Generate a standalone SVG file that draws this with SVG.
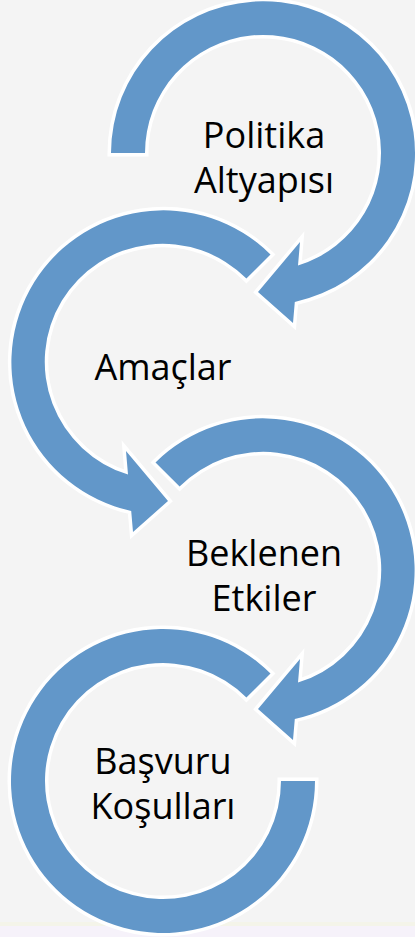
<svg xmlns="http://www.w3.org/2000/svg" width="415" height="937" viewBox="0 0 415 937">
<style>
.ring{fill:#6297c9;stroke:#ffffff;stroke-width:7;paint-order:stroke fill;stroke-linejoin:miter;stroke-miterlimit:6}
.lbl{font-family:"Open Sans","Noto Sans",sans-serif;font-size:36px;fill:#000000;text-anchor:middle}
</style>
<rect x="0" y="0" width="415" height="937" fill="#f4f4f4"/>
<rect x="0" y="922" width="415" height="4" fill="#f4f4e9"/>
<rect x="0" y="926" width="415" height="11" fill="#f6f2fa"/>
<g id="connectors"></g>
<g id="node4">
<path class="ring" d="M 270.5 673.5 A 152 152 0 1 0 315 781 L 281 781 A 118 118 0 1 1 246.4 697.6 Z"/>
<text class="lbl" x="163" y="774">Başvuru</text>
<text class="lbl" x="163" y="819">Koşulları</text>
</g>
<g id="node3">
<path class="ring" d="M 155.5 462.5 A 152 152 0 1 1 294.8 718.9 L 293 740 L 258 709 L 300 659 L 298 682.6 A 118 118 0 1 0 179.6 486.6 Z"/>
<text class="lbl" x="264" y="566">Beklenen</text>
<text class="lbl" x="264" y="610.5">Etkiler</text>
</g>
<g id="node2">
<path class="ring" d="M 270.5 254.5 A 152 152 0 1 0 131.2 510.9 L 133 532 L 168 501 L 126 451 L 128 474.6 A 118 118 0 1 1 246.4 278.6 Z"/>
<text class="lbl" x="163" y="380">Amaçlar</text>
</g>
<g id="node1">
<path class="ring" d="M 111 153 A 152 152 0 1 1 294.8 301.9 L 293 323 L 258 292 L 300 242 L 298 265.6 A 118 118 0 1 0 145 153 Z"/>
<text class="lbl" x="264" y="148">Politika</text>
<text class="lbl" x="264" y="192.5">Altyapısı</text>
</g>
</svg>
